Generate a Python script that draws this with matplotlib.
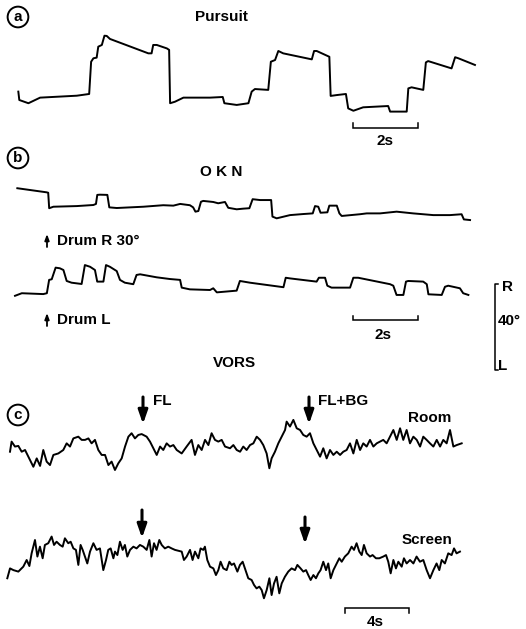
import numpy as np
import matplotlib.pyplot as plt

# ---------------------------------------------------------------
# eye position traces (time in s, position in deg)
# ---------------------------------------------------------------
pursuit_t = [0.01, 0.04, 0.32, 0.68, 1.81, 2.19, 2.25, 2.32, 2.42, 2.47, 2.58, 2.66, 2.73,
             2.83, 4.01, 4.11, 4.16, 4.27, 4.58, 4.65, 4.68, 4.83, 5.09, 5.91, 6.30, 6.35,
             6.73, 7.09, 7.19, 7.29, 7.70, 7.78, 7.91, 8.01, 8.16, 9.04, 9.11, 9.19, 9.58,
             9.62, 9.81, 10.09, 10.16, 10.32, 10.62, 11.39, 11.45, 11.96, 12.01, 12.11,
             12.47, 12.55, 12.62, 13.34, 13.45, 13.55, 14.06]
pursuit_d = [3.9, 0.0, -1.5, 1.1, 2.0, 2.8, 17.8, 19.4, 19.7, 24.8, 25.6, 29.9, 29.8,
             28.4, 21.7, 21.7, 25.6, 25.6, 24.0, 23.3, -1.5, -0.8, 1.1, 1.1, 1.4, -1.5,
             -2.3, -1.5, 3.9, 5.1, 4.7, 17.8, 18.6, 22.8, 21.7, 18.9, 22.8, 22.8, 20.1,
             1.9, 2.3, 2.8, -3.9, -5.0, -3.4, -2.8, -5.4, -5.4, 5.4, 5.9,
             4.7, 17.5, 18.1, 14.7, 19.9, 19.4, 16.3]

okn_r_t = [0.01, 0.91, 0.96, 0.99, 1.12, 1.84, 2.35, 2.43, 2.47, 2.55, 2.78, 2.84, 3.07,
           3.89, 4.50, 4.81, 5.02, 5.32, 5.42, 5.49, 5.58, 5.66, 5.73, 6.04, 6.19, 6.40,
           6.50, 6.76, 6.96, 7.15, 7.25, 7.48, 7.82, 7.86, 7.99, 8.40, 8.81, 9.10, 9.17,
           9.27, 9.34, 9.55, 9.61, 9.84, 9.92, 9.99, 10.55, 10.76, 11.17, 11.68, 12.19,
           12.81, 13.32, 13.68, 13.75, 13.94]
okn_r_d = [7.8, 5.9, 5.7, -1.5, -0.8, -0.5, 0.0, 0.5, 4.7, 4.8, 4.7, -1.1, -1.4,
           -0.8, -0.1, -0.3, 0.5, -0.1, -1.1, -3.1, -2.8, 1.5, 1.9, 1.4, 0.8, 1.4,
           -1.3, -2.0, -1.7, -1.5, 2.7, 2.3, 2.3, -5.4, -6.2, -4.7, -4.2, -3.9, -0.5,
           -0.8, -3.6, -3.4, -0.3, -0.3, -3.9, -5.1, -4.3, -3.9, -3.9, -3.1, -3.9,
           -4.7, -4.7, -4.3, -6.7, -7.0]

okn_l_t = [0.00, 0.21, 0.87, 0.98, 1.05, 1.13, 1.25, 1.38, 1.49, 1.59, 1.74, 2.05, 2.15,
           2.31, 2.46, 2.53, 2.72, 2.80, 2.92, 3.13, 3.23, 3.38, 3.64, 3.74, 3.85, 4.36,
           4.77, 5.08, 5.13, 5.38, 6.00, 6.10, 6.21, 6.82, 6.92, 7.23, 8.26, 8.33, 8.46,
           9.28, 9.35, 9.54, 9.61, 9.74, 10.31, 10.41, 10.56, 11.54, 11.64, 11.74, 11.95,
           12.03, 12.10, 12.56, 12.67, 12.72, 13.13, 13.23, 13.33, 13.69, 13.79, 13.95]
okn_l_d = [-2.7, -1.5, -1.9, -1.5, 4.7, 5.0, 10.4, 10.1, 9.3, 4.2, 3.4, 2.8, 11.6,
           10.8, 9.3, 3.9, 3.9, 11.6, 10.8, 8.8, 4.7, 3.4, 2.7, 7.0, 7.3, 5.9,
           5.1, 4.7, 1.1, 0.3, 0.0, 0.8, -1.1, -0.3, 4.2, 3.4, 1.3, 5.7, 5.4,
           3.9, 5.7, 5.7, 2.0, 1.1, 1.1, 5.7, 5.7, 2.7, 2.0, -2.3, -2.3,
           3.9, 4.2, 3.9, 2.7, -2.0, -2.3, 1.5, 2.0, 0.8, -1.5, -2.3]

room_t = [0.00, 0.10, 0.31, 0.52, 0.73, 0.94, 1.25, 1.46, 1.67, 1.88, 2.08, 2.29, 2.50,
          2.71, 3.02, 3.33, 3.54, 3.75, 3.96, 4.27, 4.48, 4.69, 4.90, 5.10, 5.31, 5.52,
          5.73, 5.94, 6.15, 6.35, 6.56, 6.77, 6.98, 7.19, 7.40, 7.60, 7.81, 8.02, 8.23,
          8.54, 8.75, 8.96, 9.17, 9.38, 9.58, 9.79, 10.00, 10.21, 10.42, 10.73, 11.04,
          11.35, 11.56, 11.77, 11.98, 12.19, 12.40, 12.60, 12.81, 13.02, 13.23, 13.44,
          13.75, 13.96, 14.17, 14.38, 14.58, 14.79, 15.00, 15.21, 15.42, 15.63, 15.83,
          16.04, 16.21, 16.35, 16.56, 16.77, 16.98, 17.19, 17.29, 17.50, 17.71, 17.92,
          18.13, 18.33, 18.54, 18.75, 18.96, 19.17, 19.38, 19.58, 19.79, 20.00, 20.21,
          20.42, 20.63, 20.83, 21.04, 21.25, 21.46, 21.67, 21.88, 22.08, 22.29, 22.50,
          22.71, 22.92, 23.13, 23.33, 23.54, 23.75, 23.96, 24.17, 24.38, 24.58, 24.79,
          25.00, 25.21, 25.42, 25.63, 25.83, 26.04, 26.25, 26.46, 26.67, 26.88, 27.08,
          27.29, 27.50, 27.71, 27.92, 28.23]
room_d = [-0.8, 3.9, 1.6, 1.9, -0.8, 0.0, -4.7, -7.8, -3.9, -7.4, 0.0, -5.4, -7.0,
          -2.3, -1.6, 0.0, 3.1, 1.6, 5.4, 6.2, 4.7, 4.7, 5.4, 3.1, 4.7, 0.0,
          -2.3, -2.3, -7.0, -5.4, -9.3, -6.2, -3.9, 1.6, 6.2, 7.8, 5.4, 7.0, 7.4,
          6.2, 3.9, 0.8, -2.3, 1.6, 0.0, 3.1, 1.6, 2.3, 0.0, -1.6, 1.6,
          4.7, -2.3, 2.3, 0.0, 4.7, 2.3, 7.8, 4.7, 3.9, 4.7, 1.6,
          0.8, 2.3, 0.0, -0.8, 1.6, 0.0, 2.3, 3.1, 6.2, 4.7, 2.3,
          -1.6, -8.5, -3.9, -0.8, 3.1, 6.2, 9.3, 13.2, 10.9, 14.0, 10.1,
          9.3, 7.0, 6.2, 7.8, 3.1, 0.0, -3.1, 0.8, -3.9, 0.0, -2.3,
          -0.8, -2.3, -0.8, 0.0, 3.1, -1.6, 4.7, 0.0, 3.1, 1.6, 4.7,
          1.6, 3.1, 3.9, 4.7, 3.1, 6.2, 9.3, 4.7, 10.1, 4.7, 9.3,
          3.1, 6.2, 4.7, 1.6, 6.2, 4.7, 3.1, 1.6, 4.7, 1.6, 4.7,
          3.1, 9.3, 1.6, 2.3, 3.1]

screen_t = [0.00, 0.17, 0.38, 0.69, 1.00, 1.21, 1.38, 1.52, 1.73, 1.88, 2.04, 2.21, 2.35,
            2.56, 2.77, 2.92, 3.08, 3.29, 3.46, 3.60, 3.81, 3.96, 4.13, 4.29, 4.44, 4.58,
            4.71, 4.85, 5.00, 5.17, 5.38, 5.58, 5.79, 6.00, 6.17, 6.31, 6.46, 6.63, 6.73,
            6.88, 7.04, 7.21, 7.35, 7.50, 7.67, 7.88, 8.08, 8.29, 8.50, 8.71, 8.88, 9.02,
            9.17, 9.33, 9.50, 9.65, 9.85, 10.06, 10.27, 10.48, 10.90, 11.04, 11.21, 11.42,
            11.58, 11.73, 11.94, 12.08, 12.25, 12.35, 12.50, 12.67, 12.88, 13.04, 13.19,
            13.33, 13.50, 13.71, 13.88, 14.02, 14.17, 14.38, 14.54, 14.71, 14.92, 15.06,
            15.27, 15.42, 15.58, 15.75, 15.90, 16.04, 16.21, 16.38, 16.52, 16.67, 16.83,
            17.00, 17.15, 17.35, 17.56, 17.77, 17.98, 18.13, 18.33, 18.50, 18.67, 18.81,
            18.96, 19.13, 19.29, 19.44, 19.58, 19.75, 19.92, 20.06, 20.21, 20.38, 20.54,
            20.75, 20.90, 21.10, 21.31, 21.52, 21.67, 21.83, 22.00, 22.15, 22.29, 22.46,
            22.67, 22.83, 23.04, 23.25, 23.50, 23.67, 23.81, 23.96, 24.13, 24.29, 24.44,
            24.65, 24.79, 24.96, 25.17, 25.38, 25.58, 25.79, 26.00, 26.21, 26.42, 26.63,
            26.83, 27.00, 27.15, 27.35, 27.56, 27.77, 27.92, 28.08, 28.29]
screen_d = [-8.5, -3.9, -4.7, -5.4, -3.1, 0.0, -2.8, 3.1, 9.3, 1.6, 6.2, 0.8, 7.0,
            7.8, 10.9, 7.0, 8.5, 7.0, 6.2, 10.1, 7.8, 8.5, 5.4, 4.7, -2.3, 7.0,
            4.7, 1.6, -1.6, 3.9, 7.8, 4.7, 5.4, -4.7, 0.0, 4.7, 5.4, 0.8, 3.9,
            2.3, 8.5, 4.7, 7.0, 1.6, 4.7, 6.2, 5.4, 7.0, 6.2, 4.7, 9.3, 1.6,
            7.8, 4.7, 9.3, 7.0, 5.4, 6.2, 5.4, 4.7, 3.9, 0.0, 1.6, 4.7,
            0.0, 3.9, 0.8, 5.4, 4.7, 6.2, 0.0, -3.1, -3.9, -7.0, -4.7,
            -0.8, -3.9, -4.7, -0.8, -2.3, -1.6, -5.4, -2.3, -0.8, -5.4, -8.5,
            -9.3, -11.6, -13.2, -12.4, -14.0, -17.8, -14.0, -8.5, -16.3, -10.9, -7.8,
            -15.5, -10.9, -7.8, -5.4, -3.9, -4.7, -2.3, -3.9, -5.4, -4.7, -7.0,
            -9.3, -7.0, -8.5, -6.2, -4.7, -0.8, -4.7, -1.6, -8.5, -4.7, -2.3,
            0.8, -0.8, 1.6, 3.1, 6.2, 4.7, 7.8, 3.9, 2.3, 7.0, 3.1,
            1.6, 2.3, 0.8, 0.8, 1.6, 2.3, -0.8, -6.2, 0.0, -3.9, -0.8,
            -3.1, 0.8, -1.6, 0.0, -1.6, 1.6, -0.8, 0.0, -4.7, -8.5, -4.7,
            -1.6, -4.7, 0.0, -1.6, 3.1, 2.3, 5.4, 3.1, 3.9]

# ---------------------------------------------------------------
# figure: one pixel-based axes for labels, one overlay axes per trace
# ---------------------------------------------------------------
W, H = 526, 629
PX_DEG = 2.15          # pixels per degree (40 deg bar)
PX_S_AB = 32.5         # pixels per second, panels a and b (2 s bar)
PX_S_C = 16.0          # pixels per second, panel c (4 s bar)

plt.rcParams["font.family"] = ["Liberation Sans", "DejaVu Sans"]
fig = plt.figure(figsize=(W / 100, H / 100), dpi=100)
ax = fig.add_axes([0, 0, 1, 1])
ax.set_xlim(0, W)
ax.set_ylim(H, 0)
ax.axis("off")

LW = 1.4


def trace_axes(x0, y0, px_s):
    """overlay axes whose origin (t=0, deg=0) lands at pixel (x0, y0)"""
    tax = fig.add_axes([0, 0, 1, 1])
    tax.set_xlim(-x0 / px_s, (W - x0) / px_s)
    tax.set_ylim((y0 - H) / PX_DEG, y0 / PX_DEG)
    tax.axis("off")
    tax.patch.set_alpha(0)
    return tax


def time_bar(tax, t0, length, d, tick):
    tax.plot([t0, t0, t0 + length, t0 + length], [d + tick, d, d, d + tick],
             color="k", lw=1.1, solid_joinstyle="miter")


# (a) pursuit
ta = trace_axes(18, 100, PX_S_AB)
ta.plot(pursuit_t, pursuit_d, color="k", lw=LW)
time_bar(ta, 10.31, 2, -13.0, 2.3)

# (b) OKN
tb1 = trace_axes(17, 205, PX_S_AB)
tb1.plot(okn_r_t, okn_r_d, color="k", lw=LW)
tb2 = trace_axes(15, 290, PX_S_AB)
tb2.plot(okn_l_t, okn_l_d, color="k", lw=LW)
time_bar(tb2, 10.4, 2, -14.0, 2.0)
# 40 deg calibration bar
tb2.plot([14.86, 14.77, 14.77, 14.86], [2.8, 2.8, -37.2, -37.2], color="k", lw=1.1)

# (c) VORS
tc1 = trace_axes(10, 450, PX_S_C)
tc1.plot(room_t, room_d, color="k", lw=LW)
tc2 = trace_axes(7.3, 560, PX_S_C)
tc2.plot(screen_t, screen_d, color="k", lw=LW)
time_bar(tc2, 21.1, 4, -22.3, -2.3)

# ---------------------------------------------------------------
# labels
# ---------------------------------------------------------------
bold = dict(fontsize=11, fontweight="bold", color="k")


def circled(x, y, s):
    ax.text(x, y, s, ha="center", va="center", fontsize=11, fontweight="bold",
            bbox=dict(boxstyle="circle,pad=0.22", fc="white", ec="k", lw=1.4))


circled(18, 17, "a")
circled(18, 158, "b")
circled(18, 415, "c")

ax.text(221, 17, "Pursuit", ha="center", va="center", **bold)
ax.text(385, 141, "2s", ha="center", va="center", **bold)
ax.text(221, 172, "O K N", ha="center", va="center", **bold)
ax.text(57, 241, "Drum R 30°", ha="left", va="center", **bold)
ax.text(57, 320, "Drum L", ha="left", va="center", **bold)
ax.text(383, 335, "2s", ha="center", va="center", **bold)
ax.text(502, 287, "R", ha="left", va="center", **bold)
ax.text(498, 321, "40°", ha="left", va="center", **bold)
ax.text(498, 366, "L", ha="left", va="center", **bold)
ax.text(234, 363, "VORS", ha="center", va="center", **bold)
ax.text(153, 401, "FL", ha="left", va="center", **bold)
ax.text(318, 401, "FL+BG", ha="left", va="center", **bold)
ax.text(430, 418, "Room", ha="center", va="center", **bold)
ax.text(427, 540, "Screen", ha="center", va="center", **bold)
ax.text(375, 622, "4s", ha="center", va="center", **bold)

# drum onset markers
for y in (241, 320):
    ax.annotate("", xy=(47, y - 7), xytext=(47, y + 6),
                arrowprops=dict(arrowstyle="-|>,head_width=0.13,head_length=0.35",
                                color="k", lw=1.3, shrinkA=0, shrinkB=0))

# stimulus arrows in (c)
big = dict(arrowstyle="-|>,head_width=0.28,head_length=0.8", color="k", lw=2.2,
           shrinkA=0, shrinkB=0)
for x, y1, y2 in [(143, 397, 424), (309, 397, 424), (142, 510, 538), (305, 517, 544)]:
    ax.annotate("", xy=(x, y2), xytext=(x, y1), arrowprops=big)

fig.savefig("out.png", dpi=100)
